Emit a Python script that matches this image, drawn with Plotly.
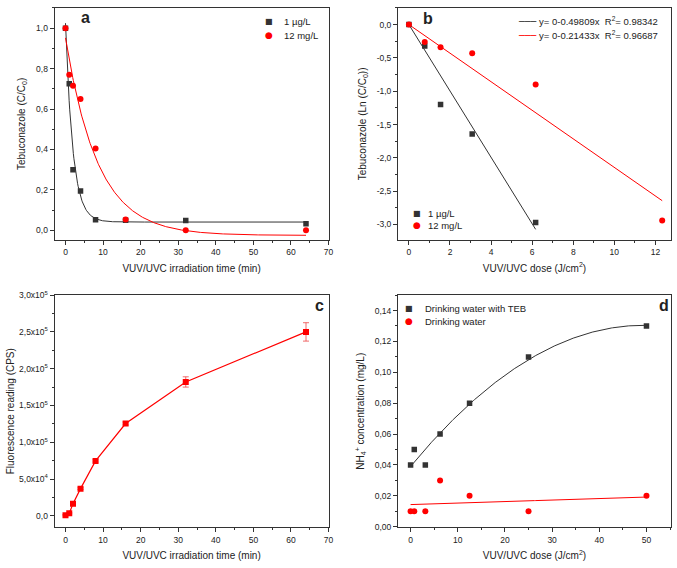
import numpy as np
import plotly.graph_objects as go

FONT = "Liberation Sans, Arial, sans-serif"
BLACK = "#333333"
RED = "#ff0000"
TXT = "#222222"

# ---------------- Panel a: C/C0 vs irradiation time ----------------
time_min = [0, 1, 2, 4, 8, 16, 32, 64]
a_low = [1.0, 0.725, 0.30, 0.195, 0.052, 0.05, 0.048, 0.032]     # 1 µg/L
a_high = [1.0, 0.77, 0.715, 0.65, 0.405, 0.053, 0.0, 0.0]       # 12 mg/L

# ---------------- Panel b: ln(C/C0) vs dose ----------------
dose_b_low = [0, 0.77, 1.54, 3.08, 6.17]
lnc_low = [0, -0.32, -1.20, -1.64, -2.97]
dose_b_high = [0, 0.77, 1.54, 3.08, 6.17, 12.33]
lnc_high = [0, -0.26, -0.34, -0.43, -0.90, -2.94]
slope_low, r2_low = -0.49809, 0.98342
slope_high, r2_high = -0.21433, 0.96687
b_ytick_vals = [0.0, -0.5, -1.0, -1.5, -2.0, -2.5, -3.0]
b_ytick_text = ["0,0", "-0,5", "-1,0", "-1,5", "-2,0", "-2,5", "-3,0"]

# ---------------- Panel c: fluorescence ----------------
fluor = [1000, 3500, 16500, 37000, 74700, 125500, 182000, 250000]
fluor_err = [800, 800, 1000, 1200, 1500, 2000, 7000, 12500]
c_ytick_vals = [0, 50000, 100000, 150000, 200000, 250000, 300000]
c_ytick_text = ["0,0", "5,0x10<sup>4</sup>", "1,0x10<sup>5</sup>", "1,5x10<sup>5</sup>",
                "2,0x10<sup>5</sup>", "2,5x10<sup>5</sup>", "3,0x10<sup>5</sup>"]

# ---------------- Panel d: NH4+ ----------------
dose_d = [0, 0.78, 3.125, 6.25, 12.5, 25, 50]
nh4_teb = [0.04, 0.05, 0.04, 0.06, 0.08, 0.11, 0.13]
nh4_dw = [0.01, 0.01, 0.01, 0.03, 0.02, 0.01, 0.02]


def expdec_fit(x, y):
    x = np.asarray(x, float)
    y = np.asarray(y, float)
    best = None
    for t in np.linspace(0.2, 40, 4000):
        M = np.column_stack([np.ones_like(x), np.exp(-x / t)])
        coef = np.linalg.lstsq(M, y, rcond=None)[0]
        sse = float(np.sum((M @ coef - y) ** 2))
        if best is None or sse < best[0]:
            best = (sse, t, coef)
    _, t, (y0, A) = best
    return lambda xx: y0 + A * np.exp(-np.asarray(xx) / t)


fig = go.Figure()

# Panel a
xs = np.linspace(0, max(time_min), 400)
f_low = expdec_fit(time_min, a_low)
f_high = expdec_fit(time_min, a_high)
fig.add_trace(go.Scatter(x=xs, y=f_low(xs), mode="lines", line=dict(color=BLACK, width=1),
                         xaxis="x", yaxis="y", showlegend=False))
fig.add_trace(go.Scatter(x=xs, y=f_high(xs), mode="lines", line=dict(color=RED, width=1),
                         xaxis="x", yaxis="y", showlegend=False))
fig.add_trace(go.Scatter(x=time_min, y=a_low, mode="markers",
                         marker=dict(symbol="square", size=5.5, color=BLACK),
                         xaxis="x", yaxis="y", showlegend=False))
fig.add_trace(go.Scatter(x=time_min, y=a_high, mode="markers",
                         marker=dict(symbol="circle", size=6, color=RED),
                         xaxis="x", yaxis="y", showlegend=False))

# Panel b
xl = np.array([0, max(dose_b_low)])
xh = np.array([0, max(dose_b_high)])
fig.add_trace(go.Scatter(x=xl, y=slope_low * xl, mode="lines", line=dict(color=BLACK, width=1),
                         xaxis="x2", yaxis="y2", showlegend=False))
fig.add_trace(go.Scatter(x=xh, y=slope_high * xh, mode="lines", line=dict(color=RED, width=1),
                         xaxis="x2", yaxis="y2", showlegend=False))
fig.add_trace(go.Scatter(x=dose_b_low, y=lnc_low, mode="markers",
                         marker=dict(symbol="square", size=5.5, color=BLACK),
                         xaxis="x2", yaxis="y2", showlegend=False))
fig.add_trace(go.Scatter(x=dose_b_high, y=lnc_high, mode="markers",
                         marker=dict(symbol="circle", size=6, color=RED),
                         xaxis="x2", yaxis="y2", showlegend=False))

# Panel c
fig.add_trace(go.Scatter(x=time_min, y=fluor, mode="lines+markers",
                         line=dict(color=RED, width=1.2),
                         marker=dict(symbol="square", size=6, color=RED),
                         error_y=dict(type="data", array=fluor_err, visible=True,
                                      color="rgba(235,60,60,0.75)", thickness=1, width=3),
                         xaxis="x3", yaxis="y3", showlegend=False))

# Panel d
xd = np.linspace(0, max(dose_d), 300)
p_teb = np.polyfit(dose_d, nh4_teb, 2)
p_dw = np.polyfit(dose_d, nh4_dw, 1)
fig.add_trace(go.Scatter(x=xd, y=np.polyval(p_teb, xd), mode="lines", line=dict(color=BLACK, width=1),
                         xaxis="x4", yaxis="y4", showlegend=False))
fig.add_trace(go.Scatter(x=xd, y=np.polyval(p_dw, xd), mode="lines", line=dict(color=RED, width=1),
                         xaxis="x4", yaxis="y4", showlegend=False))
fig.add_trace(go.Scatter(x=dose_d, y=nh4_teb, mode="markers",
                         marker=dict(symbol="square", size=5.5, color=BLACK),
                         xaxis="x4", yaxis="y4", showlegend=False))
fig.add_trace(go.Scatter(x=dose_d, y=nh4_dw, mode="markers",
                         marker=dict(symbol="circle", size=6, color=RED),
                         xaxis="x4", yaxis="y4", showlegend=False))

W, H = 677, 568


def px(x):
    return x / W


def py(y):
    return 1 - y / H


def axis(domain, anchor, rng, dtick, minor_dtick, title, standoff, **kw):
    d = dict(domain=domain, anchor=anchor, range=rng, dtick=dtick, tick0=0,
             showline=True, mirror=True, linecolor=BLACK, linewidth=1,
             ticks="outside", ticklen=4, tickwidth=1, tickcolor=BLACK,
             minor=dict(ticks="outside", ticklen=2, dtick=minor_dtick, tick0=0,
                        tickcolor=BLACK, tickwidth=1, showgrid=False),
             showgrid=False, zeroline=False,
             tickfont=dict(size=8.5, color=TXT, family=FONT),
             title=dict(text=title, font=dict(size=10, color=TXT, family=FONT), standoff=standoff))
    d.update(kw)
    return d


xa = [px(55), px(331)]
xb = [px(401), px(676)]
ytop = [py(238), py(2)]
ybot = [py(530.7), py(294.3)]

fig.update_layout(
    width=W, height=H, margin=dict(l=0, r=0, t=0, b=0),
    paper_bgcolor="white", plot_bgcolor="white",
    separators=",.",
    font=dict(family=FONT, color=TXT, size=10),
    xaxis=axis(xa, "y", [-2.9, 70], 10, 5, "VUV/UVC irradiation time (min)", 8),
    yaxis=axis(ytop, "x", [-0.047, 1.1], 0.2, 0.1, "Tebuconazole (C/C<sub>0</sub>)", 8,
               tickformat=".1f"),
    xaxis2=axis(xb, "y2", [-0.53, 12.76], 2, 1, "VUV/UVC dose (J/cm<sup>2</sup>)", 8),
    yaxis2=axis(ytop, "x2", [-3.23, 0.25], 0.5, 0.25, "Tebuconazole (Ln (C/C<sub>0</sub>))", 8,
                tickmode="array", tickvals=b_ytick_vals, ticktext=b_ytick_text),
    xaxis3=axis(xa, "y3", [-2.9, 70], 10, 5, "VUV/UVC irradiation time (min)", 8),
    yaxis3=axis(ybot, "x3", [-15600, 300000], 50000, 25000, "Fluorescence reading (CPS)", 2,
                tickmode="array", tickvals=c_ytick_vals, ticktext=c_ytick_text),
    xaxis4=axis(xb, "y4", [-2.66, 55.2], 10, 5, "VUV/UVC dose (J/cm<sup>2</sup>)", 8),
    yaxis4=axis(ybot, "x4", [-0.0004, 0.15], 0.02, 0.01,
                "NH<sub>4</sub><sup>+</sup> concentration (mg/L)", 8, tickformat=".2f"),
)

ann = []


def text(x, y, s, size=9.5, anchor="left", color=TXT, family=FONT):
    ann.append(dict(x=px(x), y=py(y), xref="paper", yref="paper", text=s, showarrow=False,
                    xanchor=anchor, yanchor="middle",
                    font=dict(size=size, color=color, family=family)))


# panel letters
text(86, 11.5, "<b>a</b>", size=16, anchor="center")
text(431.5, 13, "<b>b</b>", size=16, anchor="center")
text(321.5, 304.5, "<b>c</b>", size=16, anchor="center")
text(668.5, 305, "<b>d</b>", size=16, anchor="center")

SYM = "DejaVu Sans"
# legend a
text(270.7, 15.7, "■", size=8, anchor="center", color=BLACK, family=SYM)
text(270.7, 30, "●", size=9, anchor="center", color=RED, family=SYM)
text(284, 15.7, "1 µg/L")
text(284, 30, "12 mg/L")

# legend b (fit lines)
text(530.5, 15.7, "───", size=9.5, anchor="center", color=BLACK, family=SYM)
text(530.5, 30, "───", size=9.5, anchor="center", color=RED, family=SYM)
text(540.7, 15.7, f"y= 0{slope_low:.5f}x  R<sup>2</sup>= {r2_low:.5f}")
text(540.7, 30, f"y= 0{slope_high:.5f}x  R<sup>2</sup>= {r2_high:.5f}")
# legend b (points)
text(420, 211, "■", size=8, anchor="center", color=BLACK, family=SYM)
text(420, 223, "●", size=9, anchor="center", color=RED, family=SYM)
text(429.5, 211, "1 µg/L")
text(429.5, 223, "12 mg/L")

# legend d
text(411.7, 308, "■", size=8, anchor="center", color=BLACK, family=SYM)
text(411.7, 320.7, "●", size=9, anchor="center", color=RED, family=SYM)
text(426, 308, "Drinking water with TEB")
text(426, 320.7, "Drinking water")

fig.update_layout(annotations=ann)
fig.write_html("out.html",
               config={"displayModeBar": False},
               post_script="document.body.style.margin='0';document.body.style.overflow='hidden';")
